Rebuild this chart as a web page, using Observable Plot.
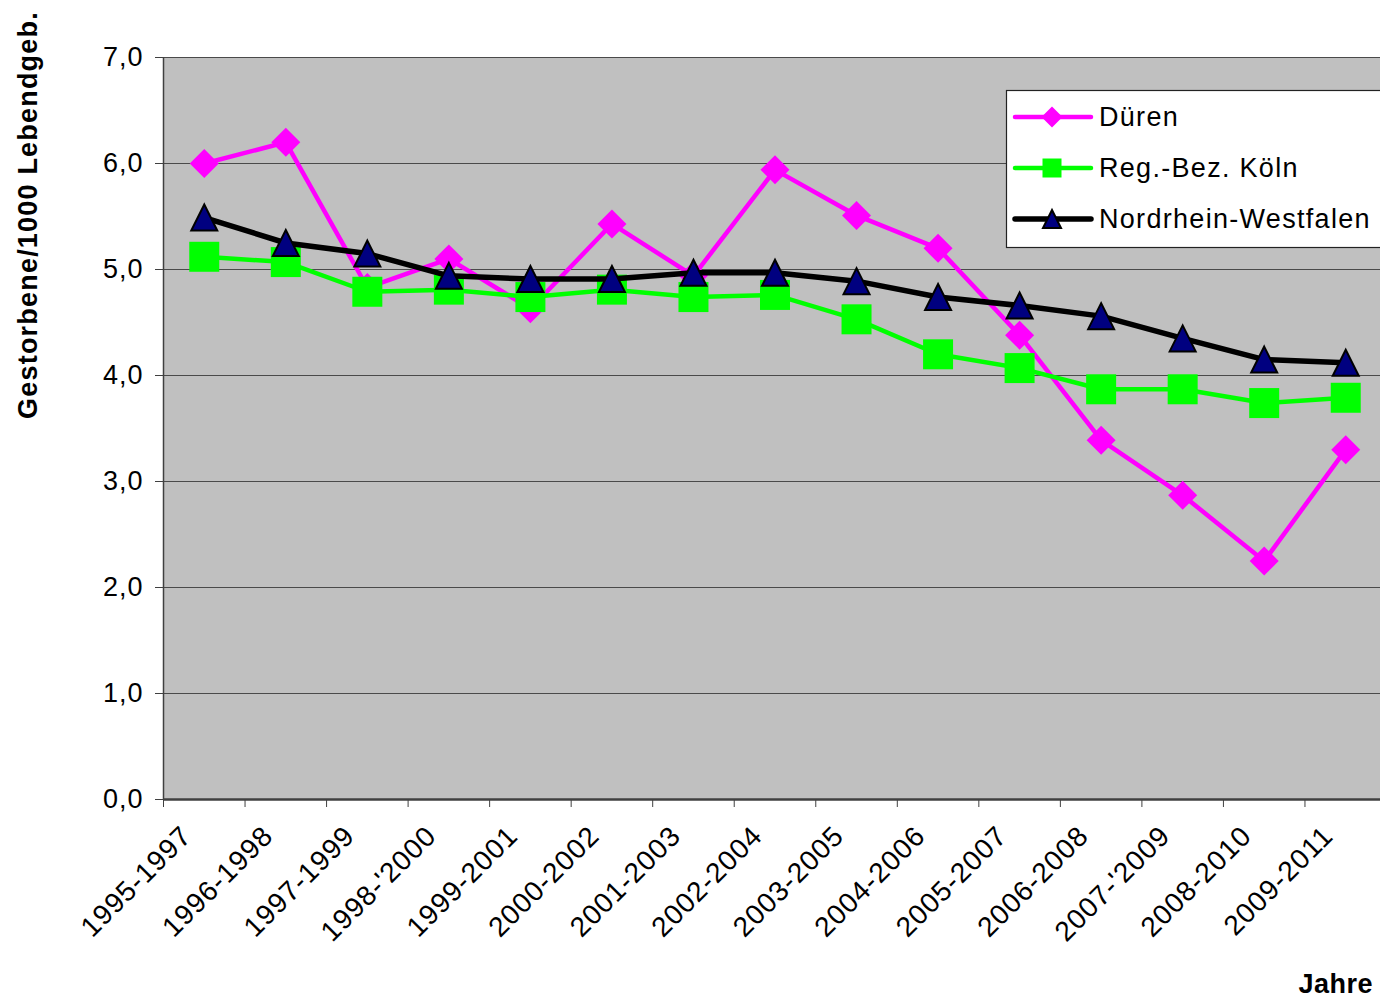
<!DOCTYPE html>
<html>
<head>
<meta charset="utf-8">
<script src="https://cdn.jsdelivr.net/npm/d3@7"></script>
<script src="https://cdn.jsdelivr.net/npm/@observablehq/plot@0.6"></script>
<style>
  html, body { margin: 0; padding: 0; background: #fff; overflow: hidden; }
  #chart { position: relative; width: 1380px; height: 1000px; overflow: hidden; }
</style>
</head>
<body>
<div id="chart"></div>
<script>
// ---- data ----
const categories = ["1995-1997","1996-1998","1997-1999","1998-'2000","1999-2001","2000-2002","2001-2003","2002-2004","2003-2005","2004-2006","2005-2007","2006-2008","2007-'2009","2008-2010","2009-2011"];
const dueren = [6.00, 6.20, 4.83, 5.10, 4.63, 5.43, 4.94, 5.94, 5.51, 5.20, 4.38, 3.39, 2.87, 2.25, 3.30];
const koeln  = [5.12, 5.07, 4.79, 4.81, 4.74, 4.81, 4.74, 4.76, 4.53, 4.20, 4.07, 3.87, 3.87, 3.74, 3.79];
const nrw    = [5.49, 5.25, 5.15, 4.94, 4.91, 4.91, 4.97, 4.97, 4.89, 4.74, 4.66, 4.56, 4.35, 4.15, 4.12];
const seriesNames = ["Düren", "Reg.-Bez. Köln", "Nordrhein-Westfalen"];
const yTicks = [0, 1, 2, 3, 4, 5, 6, 7];
const yTitle = "Gestorbene/1000 Lebendgeb.";
const xTitle = "Jahre";

// ---- custom marker symbols (size = PI*r^2) ----
const rad = s => Math.sqrt(s / Math.PI);
const symDiamond = {draw(ctx, size) { const r = rad(size); ctx.moveTo(0, -r); ctx.lineTo(r, 0); ctx.lineTo(0, r); ctx.lineTo(-r, 0); ctx.closePath(); }};
const symSquare  = {draw(ctx, size) { const r = rad(size); ctx.rect(-r, -r, 2 * r, 2 * r); }};
const symTriangle = {draw(ctx, size) { const r = rad(size); ctx.moveTo(0, -r); ctx.lineTo(r, r); ctx.lineTo(-r, r); ctx.closePath(); }};

const series = [
  {name: seriesNames[0], values: dueren, color: "#ff00ff", lineWidth: 4.5, symbol: symDiamond, r: 14.5, fill: "#ff00ff", stroke: "none", sw: 0, lr: 10.5},
  {name: seriesNames[1], values: koeln,  color: "#00ff00", lineWidth: 4.5, symbol: symSquare,  r: 15,   fill: "#00ff00", stroke: "none", sw: 0, lr: 9.5},
  {name: seriesNames[2], values: nrw,    color: "#000000", lineWidth: 5.5, symbol: symTriangle, r: 13, fill: "#000080", stroke: "#000000", sw: 2, lr: 9}
];

const fmt = d => d.toFixed(1).replace(".", ",");
const boundaries = d3.range(categories.length + 1).map(i => i - 0.5);
const FONT = "'Liberation Sans', Arial, sans-serif";

const seriesMarks = series.flatMap(s => {
  const rows = s.values.map((v, i) => ({i, v}));
  return [
    Plot.line(rows, {x: "i", y: "v", stroke: s.color, strokeWidth: s.lineWidth, strokeLinejoin: "round"}),
    Plot.dot(rows, {x: "i", y: "v", symbol: s.symbol, r: s.r, fill: s.fill, stroke: s.stroke, strokeWidth: s.sw, strokeLinejoin: "miter"})
  ];
});

const width = 1386;
const svg = Plot.plot({
  width,
  height: 1000,
  marginLeft: 163,
  marginRight: 0,
  marginTop: 57,
  marginBottom: 201,
  style: {fontFamily: FONT, fontSize: "27px", color: "#000", background: "transparent", maxWidth: "none", overflow: "visible"},
  x: {type: "linear", domain: [-0.5, categories.length - 0.5]},
  y: {domain: [0, 7]},
  marks: [
    Plot.frame({fill: "#c0c0c0", stroke: "none"}),
    Plot.gridY(yTicks, {stroke: "#4a4a4a", strokeOpacity: 1, strokeWidth: 1.2}),
    Plot.axisY({ticks: yTicks, tickSize: 8, tickPadding: 12, tickFormat: fmt, label: null, stroke: "#404040", fontSize: 27, fill: "#000"}),
    Plot.axisX({ticks: boundaries, tickSize: 8, tickFormat: () => "", label: null, stroke: "#404040"}),
    Plot.ruleX([-0.5], {stroke: "#404040", strokeWidth: 1.5}),
    Plot.ruleY([0], {stroke: "#404040", strokeWidth: 2.5}),
    Plot.text(categories, {x: (d, i) => i, text: d => d, frameAnchor: "bottom", rotate: -45, textAnchor: "end", dx: -11, dy: 38, fontSize: 28, fill: "#000"}),
    ...seriesMarks
  ]
});
svg.style.letterSpacing = "1px";
document.getElementById("chart").appendChild(svg);

// ---- titles ----
const s = d3.select(svg);
s.append("text")
  .attr("transform", "translate(37,215) rotate(-90)")
  .attr("text-anchor", "middle")
  .style("font-family", FONT).style("font-size", "27px").style("font-weight", "bold").style("letter-spacing", "1.2px")
  .attr("fill", "#000")
  .text(yTitle);
s.append("text")
  .attr("x", 1373).attr("y", 993)
  .attr("text-anchor", "end")
  .style("font-family", FONT).style("font-size", "27px").style("font-weight", "bold").style("letter-spacing", "0.5px")
  .attr("fill", "#000")
  .text(xTitle);

// ---- legend ----
const lg = s.append("g").attr("text-anchor", "start");
lg.append("rect").attr("x", 1006.5).attr("y", 90.5).attr("width", 400).attr("height", 157)
  .attr("fill", "#fff").attr("stroke", "#222").attr("stroke-width", 1.2);
const rowsY = [117, 168, 219];
series.forEach((ser, k) => {
  const y = rowsY[k];
  lg.append("line").attr("x1", 1015).attr("x2", 1091).attr("y1", y).attr("y2", y)
    .attr("stroke", ser.color).attr("stroke-width", ser.lineWidth).attr("stroke-linecap", "round");
  lg.append("path").attr("transform", `translate(1052,${y})`)
    .attr("d", d3.symbol(ser.symbol, Math.PI * ser.lr * ser.lr)())
    .attr("fill", ser.fill).attr("stroke", ser.stroke).attr("stroke-width", ser.sw);
  lg.append("text").attr("x", 1099).attr("y", y + 9)
    .attr("text-anchor", "start")
    .style("font-family", FONT).style("font-size", "27px").style("letter-spacing", "1.3px")
    .attr("fill", "#000").text(ser.name);
});
</script>
</body>
</html>
